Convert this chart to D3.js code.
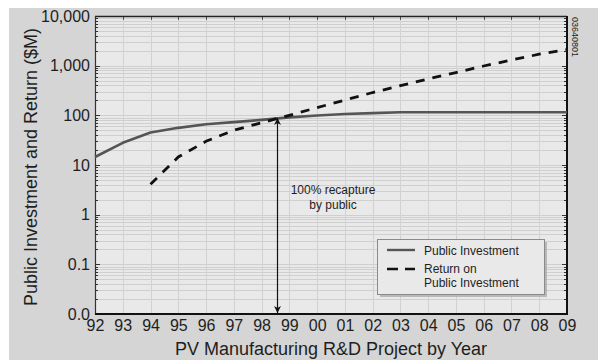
<!DOCTYPE html>
<html>
<head>
<meta charset="utf-8">
<script src="https://cdn.jsdelivr.net/npm/d3@7"></script>
<style>
  html, body { margin: 0; padding: 0; background: #fff; }
  svg { display: block; }
  text { font-family: "Liberation Sans", Arial, Helvetica, sans-serif; fill: #1e1e1e; }
</style>
</head>
<body>
<svg id="chart" width="598" height="360"></svg>
<script>
// Project years (two-digit labels) and both series in $M
const years = [1992, 1993, 1994, 1995, 1996, 1997, 1998, 1999, 2000, 2001, 2002, 2003, 2004, 2005, 2006, 2007, 2008, 2009];
const yearLabels = ["92", "93", "94", "95", "96", "97", "98", "99", "00", "01", "02", "03", "04", "05", "06", "07", "08", "09"];
const publicInvestment = [14.5, 28, 45, 56, 66, 73, 81, 91, 99, 106, 111, 115, 115, 115, 115, 115, 115, 115];
const returnYears = [1994, 1995, 1996, 1997, 1998, 1999, 2000, 2001, 2002, 2003, 2004, 2005, 2006, 2007, 2008, 2009];
const returnOnInvestment = [4.1, 14.5, 30, 50, 71, 100, 143, 203, 288, 395, 540, 728, 985, 1300, 1700, 2100];
const yTickValues = [0.01, 0.1, 1, 10, 100, 1000, 10000];
const yTickLabels = ["0.0", "0.1", "1", "10", "100", "1,000", "10,000"];
const breakEvenYear = 1998.56;
const breakEvenValue = 88;

const svg = d3.select("#chart");
const W = 598, H = 360;
const plot = { left: 95, top: 16, right: 567, bottom: 314 };

// Panel background
svg.append("rect").attr("x", 9).attr("y", 8).attr("width", W - 9).attr("height", H - 8).attr("fill", "#d5d5d5");

const x = d3.scaleLinear().domain([1992, 2009]).range([plot.left, plot.right]);
const y = d3.scaleLog().domain([0.01, 10000]).range([plot.bottom, plot.top]);

svg.append("rect")
  .attr("x", plot.left).attr("y", plot.top)
  .attr("width", plot.right - plot.left).attr("height", plot.bottom - plot.top)
  .attr("fill", "#e9e9e9");

// Minor and major log values for grid and ticks
const minorVals = [];
for (let e = -2; e < 4; e++) {
  for (let m = 2; m <= 9; m++) minorVals.push(m * Math.pow(10, e));
}

const grid = svg.append("g");
grid.selectAll("line.hg").data(minorVals.concat(yTickValues)).join("line")
  .attr("x1", plot.left).attr("x2", plot.right)
  .attr("y1", d => Math.round(y(d)) + 0.5).attr("y2", d => Math.round(y(d)) + 0.5)
  .attr("stroke", "#cfcfcf").attr("stroke-width", 1);
grid.selectAll("line.vg").data(years.slice(1, -1)).join("line")
  .attr("y1", plot.top).attr("y2", plot.bottom)
  .attr("x1", d => Math.round(x(d)) + 0.5).attr("x2", d => Math.round(x(d)) + 0.5)
  .attr("stroke", "#d2d2d2").attr("stroke-width", 1);

// Left axis with inward ticks
const leftAxis = svg.append("g").attr("transform", `translate(${plot.left},0)`)
  .call(d3.axisLeft(y).tickValues(yTickValues).tickSize(0).tickPadding(5)
    .tickFormat((d, i) => yTickLabels[i]));
leftAxis.select(".domain").remove();
leftAxis.selectAll("text").style("font-size", "16px").attr("fill", "#1e1e1e").attr("dy", "0.32em");
svg.append("g").selectAll("line").data(yTickValues).join("line")
  .attr("x1", plot.left).attr("x2", plot.left + 5)
  .attr("y1", d => Math.round(y(d)) + 0.5).attr("y2", d => Math.round(y(d)) + 0.5)
  .attr("stroke", "#333");
svg.append("g").selectAll("line").data(minorVals).join("line")
  .attr("x1", plot.left).attr("x2", plot.left + 3)
  .attr("y1", d => Math.round(y(d)) + 0.5).attr("y2", d => Math.round(y(d)) + 0.5)
  .attr("stroke", "#333");

// Right axis ticks pointing inward
svg.append("g").selectAll("line").data(yTickValues).join("line")
  .attr("x1", plot.right - 5).attr("x2", plot.right)
  .attr("y1", d => Math.round(y(d)) + 0.5).attr("y2", d => Math.round(y(d)) + 0.5)
  .attr("stroke", "#333");
svg.append("g").selectAll("line").data(minorVals).join("line")
  .attr("x1", plot.right - 3).attr("x2", plot.right)
  .attr("y1", d => Math.round(y(d)) + 0.5).attr("y2", d => Math.round(y(d)) + 0.5)
  .attr("stroke", "#333");

// Top axis ticks
svg.append("g").selectAll("line").data(years).join("line")
  .attr("x1", d => Math.round(x(d)) + 0.5).attr("x2", d => Math.round(x(d)) + 0.5)
  .attr("y1", plot.top).attr("y2", plot.top + 4)
  .attr("stroke", "#555");

// Bottom axis labels
const bottomAxis = svg.append("g").attr("transform", `translate(0,${plot.bottom})`)
  .call(d3.axisBottom(x).tickValues(years).tickSize(0).tickPadding(6)
    .tickFormat((d, i) => yearLabels[i]));
bottomAxis.select(".domain").remove();
bottomAxis.selectAll("text").style("font-size", "16px").attr("fill", "#1e1e1e");

// Frame
svg.append("line").attr("x1", plot.left).attr("x2", plot.right).attr("y1", plot.top + 0.5).attr("y2", plot.top + 0.5)
  .attr("stroke", "#222").attr("stroke-width", 1.5);
svg.append("line").attr("x1", plot.left + 0.5).attr("x2", plot.left + 0.5).attr("y1", plot.top).attr("y2", plot.bottom)
  .attr("stroke", "#333").attr("stroke-width", 1.2);
svg.append("line").attr("x1", plot.right).attr("x2", plot.right).attr("y1", plot.top).attr("y2", plot.bottom + 1)
  .attr("stroke", "#111").attr("stroke-width", 2);
svg.append("line").attr("x1", plot.left).attr("x2", plot.right + 1).attr("y1", plot.bottom).attr("y2", plot.bottom)
  .attr("stroke", "#111").attr("stroke-width", 2);

// Series lines
const line = d3.line().x(d => x(d[0])).y(d => y(d[1]));
svg.append("path")
  .datum(years.map((yr, i) => [yr, publicInvestment[i]]))
  .attr("d", line).attr("fill", "none")
  .attr("stroke", "#555").attr("stroke-width", 2.6).attr("stroke-linejoin", "round");
svg.append("path")
  .datum(returnYears.map((yr, i) => [yr, returnOnInvestment[i]]))
  .attr("d", line).attr("fill", "none")
  .attr("stroke", "#111").attr("stroke-width", 2.8)
  .attr("stroke-dasharray", "9,8");

// Break-even arrow
const defs = svg.append("defs");
defs.append("marker").attr("id", "ah").attr("viewBox", "0 0 10 10")
  .attr("refX", 10).attr("refY", 5).attr("markerWidth", 9).attr("markerHeight", 7)
  .attr("markerUnits", "userSpaceOnUse").attr("orient", "auto-start-reverse")
  .append("path").attr("d", "M0,0 L10,5 L0,10 L3,5 Z").attr("fill", "#111");
const ax = Math.round(x(breakEvenYear)) + 0.5;
svg.append("line")
  .attr("x1", ax).attr("x2", ax)
  .attr("y1", y(breakEvenValue)).attr("y2", plot.bottom - 1)
  .attr("stroke", "#111").attr("stroke-width", 1.2)
  .attr("marker-start", "url(#ah)").attr("marker-end", "url(#ah)");

svg.append("text").attr("x", 333).attr("y", 194).attr("text-anchor", "middle")
  .style("font-size", "12px").text("100% recapture");
svg.append("text").attr("x", 333).attr("y", 209).attr("text-anchor", "middle")
  .style("font-size", "12px").text("by public");

// Legend
const lg = svg.append("g").attr("transform", "translate(377,239)");
lg.append("rect").attr("x", 3).attr("y", 3).attr("width", 167).attr("height", 55).attr("fill", "#9a9a9a").attr("opacity", 0.6);
lg.append("rect").attr("x", 0.5).attr("y", 0.5).attr("width", 167).attr("height", 55)
  .attr("fill", "#e9e9e9").attr("stroke", "#8a8a8a").attr("stroke-width", 1);
lg.append("line").attr("x1", 10).attr("x2", 38).attr("y1", 11).attr("y2", 11)
  .attr("stroke", "#555").attr("stroke-width", 2.4);
lg.append("line").attr("x1", 10).attr("x2", 38).attr("y1", 30).attr("y2", 30)
  .attr("stroke", "#111").attr("stroke-width", 2.4).attr("stroke-dasharray", "11,7");
lg.append("text").attr("x", 47).attr("y", 16).style("font-size", "12px").text("Public Investment");
lg.append("text").attr("x", 47).attr("y", 34).style("font-size", "12px").text("Return on");
lg.append("text").attr("x", 47).attr("y", 48).style("font-size", "12px").text("Public Investment");

// Axis titles
svg.append("text").attr("x", (plot.left + plot.right) / 2).attr("y", 355)
  .attr("text-anchor", "middle").style("font-size", "18px")
  .text("PV Manufacturing R&D Project by Year");
svg.append("text")
  .attr("transform", `translate(37,${(plot.top + plot.bottom) / 2 + 2}) rotate(-90)`)
  .attr("text-anchor", "middle").style("font-size", "18px")
  .text("Public Investment and Return ($M)");

// Figure code
svg.append("text")
  .attr("transform", "translate(572,17) rotate(90)")
  .style("font-size", "9px").attr("fill", "#555")
  .text("03640801");
</script>
</body>
</html>
